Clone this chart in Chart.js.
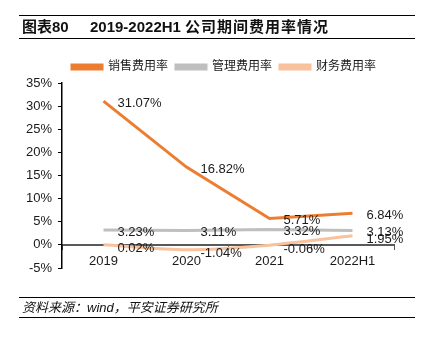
<!DOCTYPE html>
<html>
<head>
<meta charset="utf-8">
<script src="https://cdn.jsdelivr.net/npm/chart.js@4.4.0/dist/chart.umd.min.js"></script>
<style>
  html, body { margin: 0; padding: 0; background: #fff; }
  body { width: 429px; height: 338px; position: relative; overflow: hidden;
         font-family: 'Liberation Sans', 'Noto Sans CJK SC', sans-serif; }
  #title { position: absolute; left: 19px; top: 15px; width: 396px; height: 22px;
           border-top: 1.5px solid #000; border-bottom: 1.5px solid #000;
           font-weight: bold; font-size: 15px; line-height: 22px; color: #111; }
  #title span { position: absolute; top: 0; white-space: nowrap; }
  #footer { position: absolute; left: 19px; top: 297px; width: 396px; height: 19px;
            border-top: 1.5px solid #000; border-bottom: 1.5px solid #000;
            font-style: italic; font-size: 13px; line-height: 19px; color: #111; }
  #footer span { position: absolute; left: 3px; top: 0; }
  #wrap { position: absolute; left: 0; top: 0; width: 429px; height: 338px; }
</style>
</head>
<body>
<div id="wrap"><canvas id="chart"></canvas></div>
<div id="title"><span style="left:3px">图表80</span><span style="left:71px">2019-2022H1 <span style="position:static;letter-spacing:1px">公司期间费用率情况</span></span></div>
<div id="footer"><span>资料来源：wind，平安证券研究所</span></div>
<script>
document.addEventListener('DOMContentLoaded', function() {
    // Datos
    var categories = ['2019', '2020', '2021', '2022H1'];
    var salesRate = [31.07, 16.82, 5.71, 6.84];   // 销售费用率
    var adminRate = [3.23, 3.11, 3.32, 3.13];     // 管理费用率
    var financeRate = [0.02, -1.04, -0.06, 1.95]; // 财务费用率
    var yMin = -5, yMax = 35, yStep = 5;

    var fontFamily = "'Liberation Sans', 'Noto Sans CJK SC', sans-serif";

    // etiquetas de valor a la derecha de cada punto
    var valueLabels = {
        id: 'valueLabels',
        afterDatasetsDraw: function(chart) {
            var ctx = chart.ctx;
            ctx.save();
            ctx.font = '13px ' + fontFamily;
            ctx.fillStyle = '#1a1a1a';
            ctx.textAlign = 'left';
            ctx.textBaseline = 'middle';
            chart.data.datasets.forEach(function(ds, i) {
                var meta = chart.getDatasetMeta(i);
                meta.data.forEach(function(pt, j) {
                    ctx.fillText(ds.data[j].toFixed(2) + '%', pt.x + 14, pt.y + (ds.labelDy || 2));
                });
            });
            ctx.restore();
        }
    };

    // mover la leyenda un poco a la derecha (centrada sobre el área del gráfico)
    var legendShift = {
        id: 'legendShift',
        afterLayout: function(chart) {
            var lg = chart.legend;
            var dx = (chart.chartArea.left + chart.chartArea.right) / 2 - (lg.left + lg.right) / 2 - 4;
            lg.left += dx;
            lg.right += dx;
        }
    };

    var datos = {
        labels: categories,
        datasets: [{
            label: '销售费用率',
            data: salesRate,
            borderColor: '#ED7D31',
            backgroundColor: '#ED7D31',
            borderWidth: 3,
            pointRadius: 0,
            tension: 0
        }, {
            label: '管理费用率',
            data: adminRate,
            borderColor: '#BFBFBF',
            backgroundColor: '#BFBFBF',
            borderWidth: 3,
            pointRadius: 0,
            tension: 0
        }, {
            label: '财务费用率',
            data: financeRate,
            borderColor: '#F8C29C',
            backgroundColor: '#F8C29C',
            borderWidth: 3,
            pointRadius: 0,
            tension: 0.25,
            labelDy: 4
        }]
    };

    var config = {
        type: 'line',
        data: datos,
        plugins: [valueLabels, legendShift],
        options: {
            responsive: false,
            animation: false,
            layout: { padding: { top: 53, left: 26, right: 35, bottom: 70 } },
            plugins: {
                tooltip: { enabled: false },
                legend: {
                    position: 'top',
                    labels: {
                        boxWidth: 30,
                        boxHeight: 4,
                        padding: 8,
                        color: '#1a1a1a',
                        font: { size: 12, family: fontFamily }
                    }
                }
            },
            scales: {
                x: {
                    position: { y: 0 },
                    offset: true,
                    border: { color: '#595959', width: 2 },
                    grid: { display: true, drawOnChartArea: false, offset: true, tickLength: 4, color: '#595959' },
                    ticks: { color: '#1a1a1a', padding: 5, font: { size: 13, family: fontFamily } }
                },
                y: {
                    min: yMin,
                    max: yMax,
                    afterFit: function(scale) { scale.width = 36; },
                    border: { color: '#000', width: 1.5 },
                    grid: { drawOnChartArea: false, tickLength: 4, color: '#000' },
                    ticks: {
                        stepSize: yStep,
                        color: '#1a1a1a',
                        padding: 6,
                        font: { size: 13, family: fontFamily },
                        callback: function(v) { return v + '%'; }
                    }
                }
            }
        }
    };

    var canvas = document.getElementById('chart');
    canvas.width = 429;
    canvas.height = 338;
    new Chart(canvas.getContext('2d'), config);
});
</script>
</body>
</html>
